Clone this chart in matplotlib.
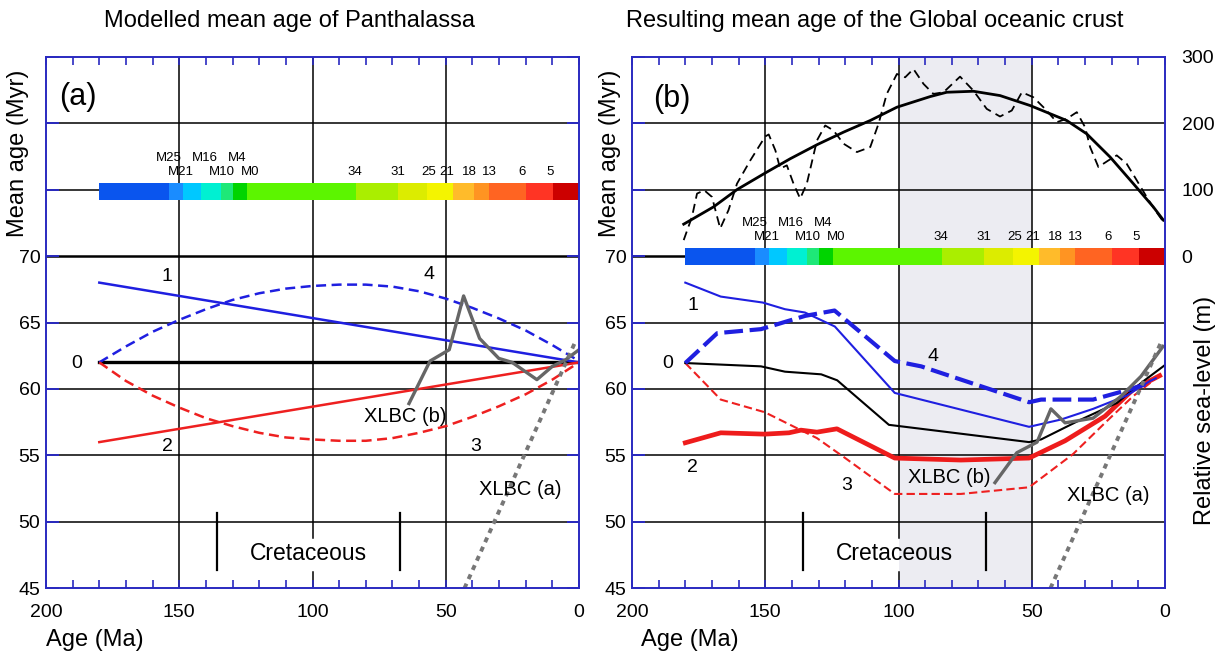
import matplotlib
matplotlib.use("Agg")
import matplotlib.pyplot as plt
import numpy as np
from matplotlib.ticker import MultipleLocator

plt.rcParams['font.family'] = ['Liberation Sans', 'DejaVu Sans']

# ---------------- data ----------------
# magnetic anomaly time-scale colour bar (Ma boundaries)
chron_bounds = [180, 154, 148.5, 142, 134.5, 130, 124.5, 83.6, 68.1, 57.1, 47.4, 39.4, 33.9, 19.9, 9.8, 0]
chron_colors = ['#0a55ee', '#1a8cff', '#00c8ff', '#00f0d2', '#1ee878', '#00d400', '#5cf500',
                '#aaee00', '#dcec00', '#f4f400', '#ffbb2a', '#ff9422', '#ff6422', '#ff3424', '#cc0000']
chron_upper = ['M25', 'M16', 'M4']
chron_upper_x = [154, 140.5, 128.3]
chron_lower = ['M21', 'M10', 'M0', '34', '31', '25', '21', '18', '13', '6', '5']
chron_lower_x = [149.5, 134, 123.5, 84.2, 68, 56.3, 49.5, 41, 33.5, 21.4, 10.8]

# panel (a): modelled sea level (m)
a0_age = [180, 0]
a0_sl = [62, 62]
a1_age = [180, 0]
a1_sl = [68, 62]
a2_age = [180, 0]
a2_sl = [56, 62]
a_arc_age = [180, 170, 160, 150, 140, 130, 120, 110, 100, 90, 80, 70, 60, 50, 40, 30, 20, 10, 0]
a4_sl = [62, 63.2, 64.3, 65.2, 66.0, 66.7, 67.2, 67.55, 67.75, 67.85, 67.85, 67.7, 67.35, 66.8, 66.1, 65.3, 64.4, 63.3, 62.1]
a3_sl = [62, 60.6, 59.5, 58.6, 57.8, 57.2, 56.7, 56.35, 56.2, 56.1, 56.1, 56.3, 56.7, 57.2, 57.9, 58.7, 59.6, 60.7, 62]
xlbc_b_a_age = [63.8, 55.9, 48.7, 43.3, 37.3, 30.1, 25.1, 15.8, 10, 5, 0]
xlbc_b_a_sl = [58.9, 62.1, 62.95, 67.0, 63.8, 62.3, 62.0, 60.7, 61.7, 62.2, 62.95]
xlbc_a_age = [43, 1.5]
xlbc_a_sl = [45, 63.5]

# panel (b): resulting sea level (m)
b1_age = [180, 166.7, 150.9, 142.6, 135.1, 123.9, 101.4, 51, 39, 27, 14.4, 5.6, 3.5]
b1_sl = [68.0, 66.95, 66.5, 66.0, 65.75, 64.7, 59.7, 57.15, 57.7, 58.5, 59.5, 60.6, 60.8]
b4_age = [180, 168, 151.6, 135, 124, 101.4, 91.5, 51, 46.5, 27, 14.4, 5]
b4_sl = [61.95, 64.2, 64.5, 65.5, 65.9, 62.1, 61.7, 59.0, 59.2, 59.2, 59.9, 60.5]
b0_age = [180, 151.6, 142.6, 129, 123, 103.6, 51, 46.5, 31.5, 18, 8, 0]
b0_sl = [61.95, 61.7, 61.3, 61.1, 60.65, 57.3, 56.0, 56.2, 57.7, 58.95, 60.6, 61.8]
b2_age = [180, 166.7, 150.2, 141.1, 136.6, 130.6, 123.1, 101.4, 76.6, 51, 37.5, 22.5, 12, 2]
b2_sl = [55.95, 56.7, 56.6, 56.7, 56.9, 56.75, 57.0, 54.8, 54.65, 54.8, 56.1, 57.95, 59.95, 61.0]
b3_age = [180, 166.7, 150.2, 130.6, 120, 101.4, 76.6, 51, 34.5, 22.5, 12, 4]
b3_sl = [61.95, 59.2, 58.25, 56.3, 54.8, 52.1, 52.1, 52.6, 55.1, 57.45, 59.45, 60.7]
xlbc_b_b_age = [63.8, 55.6, 48, 42.8, 37.5, 27, 16.5, 9, 0.75]
xlbc_b_b_sl = [52.95, 55.2, 56.0, 58.5, 57.45, 57.8, 59.45, 60.95, 63.2]

# panel (b): mean age of global oceanic crust (Myr)
ma_smooth_age = [180.6, 169.4, 160.6, 150, 140.6, 130.6, 120.6, 110.6, 100.6, 88.1, 81.9, 71.9,
                 61.9, 50.6, 36.9, 29.4, 20.6, 11.9, 4.4, 0.6]
ma_smooth = [48, 74, 100, 125, 146.5, 167.5, 186.5, 204, 224, 240, 246.5, 248,
             241.5, 226.5, 204, 184, 149, 109, 74, 54]
ma_raw_age = [180.6, 177.5, 175.6, 172.9, 170, 166.9, 163.8, 160.6, 155.6, 150, 148.7, 146.2, 144.4,
              141.9, 139.4, 136.9, 134.4, 130.6, 127.5, 124.4, 120.6, 115.6, 110.6, 107.5, 104.4,
              100.6, 97.5, 94.4, 90.6, 86.9, 83.1, 76.9, 71.9, 66.9, 61.9, 57.5, 53.7, 49.4, 45,
              40.6, 36.9, 33.1, 30, 28.1, 25, 21.2, 18.1, 14.4, 10.6, 6.9, 3.7, 0.6]
ma_raw = [24, 59, 94, 99, 89, 41.5, 69, 109, 144, 180, 183, 159, 131.5,
          136.5, 109, 86.5, 109, 174, 196.5, 189, 169, 156.5, 164, 199, 244,
          274, 269, 281.5, 259, 244, 246.5, 270, 249, 221.5, 210, 219, 246.5, 239, 221.5,
          201.5, 206.5, 216.5, 194, 164, 134, 144, 151.5, 139, 114, 89, 69, 51.5]

cretaceous_bounds = [136, 67]
shade_span = [100, 50]

# ---------------- figure ----------------
W, H = 1228, 655
fig = plt.figure(figsize=(W / 100, H / 100), dpi=100)
SPINE = '#2a2ac0'
axb_frac = (655 - 588.3) / H
axh_frac = (588.3 - 56.7) / H
ax_a = fig.add_axes([46 / W, axb_frac, 533 / W, axh_frac])
ax_b = fig.add_axes([632 / W, axb_frac, 533 / W, axh_frac])


def age_to_y(v):
    return 70 + np.asarray(v) / 20.0


def setup(ax):
    ax.set_xlim(200, 0)
    ax.set_ylim(45, 85)
    for s in ax.spines.values():
        s.set_color(SPINE)
        s.set_linewidth(1.4)
        s.set_zorder(10)
    ax.set_xticks([200, 150, 100, 50, 0])
    ax.set_xticklabels(['200', '150', '100', '50', '0'], fontsize=14)
    ax.xaxis.set_minor_locator(MultipleLocator(10))
    ax.tick_params(axis='x', which='both', direction='in', top=True, bottom=True,
                   color=SPINE, width=1.2, pad=11, length=6)
    ax.set_yticks([45, 50, 55, 60, 65, 70, 75, 80, 85])
    ax.set_yticklabels(['45', '50', '55', '60', '65', '70', '', '', ''], fontsize=14)
    ax.tick_params(axis='y', direction='in', left=True, right=True, color=SPINE,
                   width=1.4, length=9, pad=4)
    for y in [50, 55, 60, 65, 75, 80]:
        ax.axhline(y, color='black', lw=1.1, zorder=1)
    ax.axhline(70, color='black', lw=1.8, zorder=1)
    for x in [150, 50]:
        ax.axvline(x, color='black', lw=1.1, zorder=1)
    # 100 Ma line broken behind the "Cretaceous" label
    ax.axvline(100, ymin=0, ymax=0.03, color='black', lw=1.1, zorder=1)
    ax.axvline(100, ymin=0.095, ymax=1, color='black', lw=1.1, zorder=1)


def chron_bar(ax, yc, h):
    lefts = np.array(chron_bounds[1:])
    widths = np.array(chron_bounds[:-1]) - lefts
    ax.barh([yc] * len(widths), widths, left=lefts, height=h, color=chron_colors,
            edgecolor='none', zorder=3)
    for t, x in zip(chron_upper, chron_upper_x):
        ax.text(x, yc + 2.5, t, fontsize=9.5, ha='center', va='center', zorder=4)
    for t, x in zip(chron_lower, chron_lower_x):
        ax.text(x, yc + 1.5, t, fontsize=9.5, ha='center', va='center', zorder=4)


def cretaceous(ax):
    for x in cretaceous_bounds:
        ax.plot([x, x], [46.4, 50.7], color='black', lw=1.6, zorder=4)
    ax.text(sum(cretaceous_bounds) / 2, 47.6, 'Cretaceous', fontsize=16.5,
            ha='center', va='center', zorder=5)


# ---- panel (a) ----
ax = ax_a
setup(ax)
chron_bar(ax, 74.85, 1.3)
ax.plot(a0_age, a0_sl, color='black', lw=2.4, zorder=5)
ax.plot(a1_age, a1_sl, color='#1f1fe0', lw=1.8, zorder=5)
ax.plot(a2_age, a2_sl, color='#ee2020', lw=1.8, zorder=5)
ax.plot(a_arc_age, a4_sl, color='#1f1fe0', lw=1.8, ls=(0, (4, 2.2)), zorder=5)
ax.plot(a_arc_age, a3_sl, color='#ee2020', lw=1.8, ls=(0, (4, 2.2)), zorder=5)
ax.plot(xlbc_b_a_age, xlbc_b_a_sl, color='#666666', lw=2.4, zorder=6)
ax.plot(xlbc_a_age, xlbc_a_sl, color='#777777', lw=2.8, ls=(0, (1.3, 1.3)), zorder=6)
for t, x, y in [('1', 154.5, 68.45), ('4', 56.3, 68.6), ('0', 188.5, 61.95),
                ('2', 154.5, 55.7), ('3', 38.7, 55.7)]:
    ax.text(x, y, t, fontsize=14, ha='center', va='center', zorder=7)
ax.text(65.2, 57.95, 'XLBC (b)', fontsize=14.5, ha='center', va='center', zorder=7)
ax.text(21.9, 52.4, 'XLBC (a)', fontsize=14.5, ha='center', va='center', zorder=7)
cretaceous(ax)
ax.text(188, 82.0, '(a)', fontsize=22, ha='center', va='center')

# ---- panel (b) ----
ax = ax_b
setup(ax)
ax.axvspan(shade_span[0], shade_span[1], color='#ececf2', zorder=0, lw=0)
chron_bar(ax, 69.96, 1.32)
ax.plot(ma_smooth_age, age_to_y(ma_smooth), color='black', lw=2.0, zorder=5)
ax.plot(ma_raw_age, age_to_y(ma_raw), color='black', lw=1.3, ls=(0, (5, 3)), zorder=5)
ax.plot(b3_age, b3_sl, color='#ee2020', lw=1.5, ls=(0, (4, 2)), zorder=5)
ax.plot(b2_age, b2_sl, color='#ee1c1c', lw=3.4, zorder=5)
ax.plot(b0_age, b0_sl, color='black', lw=1.5, zorder=5)
ax.plot(b1_age, b1_sl, color='#1f1fe0', lw=1.5, zorder=5)
ax.plot(b4_age, b4_sl, color='#1f1fe0', lw=3.0, ls=(0, (4.5, 1.6)), zorder=5)
ax.plot(xlbc_b_b_age, xlbc_b_b_sl, color='#666666', lw=2.4, zorder=6)
ax.plot(xlbc_a_age, xlbc_a_sl, color='#777777', lw=2.8, ls=(0, (1.3, 1.3)), zorder=6)
for t, x, y in [('1', 177.2, 66.3), ('4', 87.1, 62.45), ('0', 186.5, 61.95),
                ('2', 177.2, 54.1), ('3', 119.4, 52.7)]:
    ax.text(x, y, t, fontsize=14, ha='center', va='center', zorder=7)
ax.text(81.1, 53.3, 'XLBC (b)', fontsize=14.5, ha='center', va='center', zorder=7)
ax.text(21.3, 51.95, 'XLBC (a)', fontsize=14.5, ha='center', va='center', zorder=7)
cretaceous(ax)
ax.text(185, 81.8, '(b)', fontsize=22, ha='center', va='center')

# right-hand mean-age labels
ax2 = ax_b.twinx()
ax2.set_ylim(45, 85)
ax2.set_yticks([70, 75, 80, 85])
ax2.set_yticklabels(['0', '100', '200', '300'], fontsize=14)
ax2.tick_params(axis='y', length=0, pad=12)
for s in ax2.spines.values():
    s.set_visible(False)


def fx(px):
    return px / W


def fy(py):
    return 1 - py / H


fig.text(fx(290), fy(21), 'Modelled mean age of Panthalassa', fontsize=17, ha='center', va='center')
fig.text(fx(875), fy(21), 'Resulting mean age of the Global oceanic crust', fontsize=17,
         ha='center', va='center')
fig.text(fx(18), fy(153), 'Mean age (Myr)', fontsize=17, rotation=90, ha='center', va='center')
fig.text(fx(610), fy(153), 'Mean age (Myr)', fontsize=17, rotation=90, ha='center', va='center')
fig.text(fx(1205), fy(410), 'Relative sea-level (m)', fontsize=17, rotation=90,
         ha='center', va='center')
fig.text(fx(95), fy(640), 'Age (Ma)', fontsize=17, ha='center', va='center')
fig.text(fx(690), fy(640), 'Age (Ma)', fontsize=17, ha='center', va='center')

fig.savefig('out.png', dpi=100)
